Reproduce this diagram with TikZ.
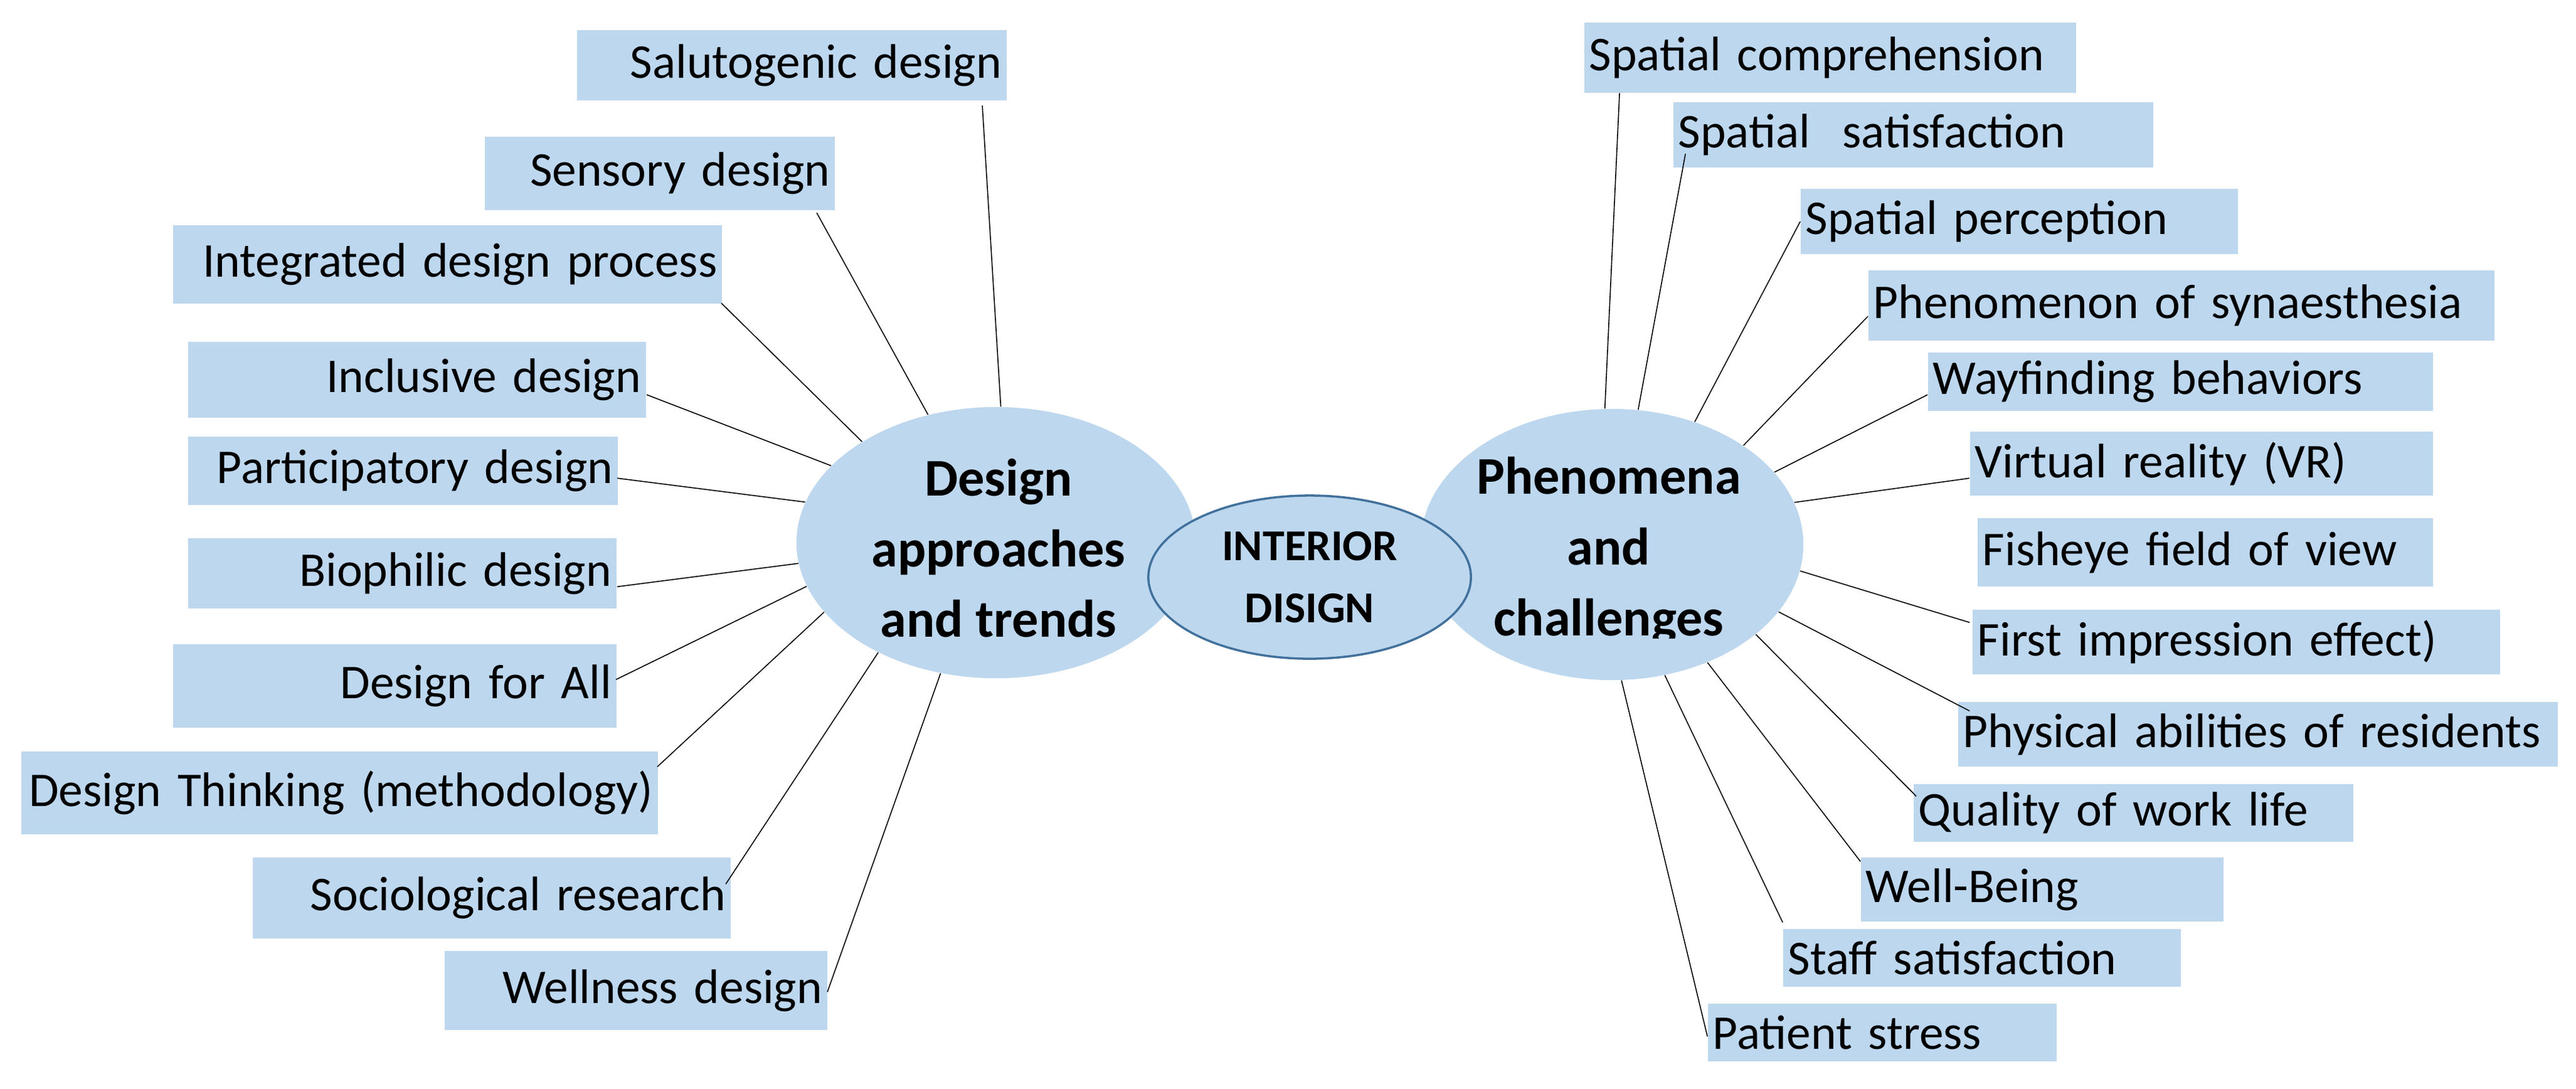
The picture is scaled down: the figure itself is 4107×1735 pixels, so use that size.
\documentclass[tikz,border=0pt]{standalone}
\usepackage{fontspec}
\setmainfont{Carlito}
\usetikzlibrary{shapes.geometric,calc}
\definecolor{boxc}{HTML}{BDD7EE}
\definecolor{edgec}{HTML}{41719C}
\newcommand\bx[7]{%
  \pgfmathsetmacro\bw{(#4-#2)/100}\pgfmathsetmacro\bh{(#5-#3)/100}\pgfmathsetmacro\tw{\bw-0.16}%
  \node[box,minimum width=\bw cm,minimum height=\bh cm,text width=\tw cm,align=#6] (#1) at ({(#2+#4)/2},{(#3+#5)/2}) {#7};}
\begin{document}
\begin{tikzpicture}[x=0.01cm,y=-0.01cm,
  box/.style={rectangle,fill=boxc,inner sep=0.08cm,font=\fontsize{22}{26}\selectfont},
  big/.style={ellipse,fill=boxc,inner sep=0pt},
  btext/.style={align=center,font=\bfseries\fontsize{24}{32}\selectfont},
  link/.style={black,line width=0.45pt}]
\useasboundingbox (0,0) rectangle (4107,1735);
% left boxes
\bx{sal}{920}{48}{1605}{160}{right}{Salutogenic design}
\bx{sen}{773}{218}{1331}{335}{right}{Sensory design}
\bx{int}{276}{359}{1151}{484}{right}{Integrated design process}
\bx{inc}{300}{545}{1030}{666}{right}{Inclusive design}
\bx{par}{300}{696}{985}{805}{right}{Participatory design}
\bx{bio}{300}{858}{983}{970}{right}{Biophilic design}
\bx{dfa}{276}{1027}{983}{1160}{right}{Design for All}
\bx{dt}{34}{1198}{1049}{1330}{right}{Design Thinking (methodology)}
\bx{soc}{403}{1367}{1165}{1496}{right}{Sociological research}
\bx{wel}{709}{1516}{1319}{1642}{right}{Wellness design}
% right boxes
\bx{sc}{2526}{36}{3310}{148}{left}{Spatial comprehension}
\bx{ss}{2668}{163}{3433}{267}{left}{Spatial\ \ satisfaction}
\bx{sp}{2871}{301}{3568}{405}{left}{Spatial perception}
\bx{ph}{2979}{431}{3977}{543}{left}{Phenomenon of synaesthesia}
\bx{wf}{3074}{562}{3879}{655}{left}{Wayfinding behaviors}
\bx{vr}{3141}{688}{3879}{790}{left}{Virtual reality (VR)}
\bx{fe}{3153}{826}{3879}{935}{left}{Fisheye field of view}
\bx{fi}{3145}{972}{3986}{1075}{left}{First impression effect)}
\bx{pa}{3122}{1119}{4078}{1222}{left}{Physical abilities of residents}
\bx{qw}{3051}{1250}{3752}{1342}{left}{Quality of work life}
\bx{wb}{2967}{1367}{3545}{1469}{left}{Well-Being}
\bx{st}{2843}{1481}{3477}{1573}{left}{Staff satisfaction}
\bx{ps}{2723}{1600}{3279}{1692}{left}{Patient stress}
% ellipses
\node[big,minimum width=6.36cm,minimum height=4.32cm] (L) at (1588,865) {};
\node[big,minimum width=6.10cm,minimum height=4.32cm] (R) at (2570,868) {};
\node[btext] (Lt) at (1592,874) {Design\\approaches\\and trends};
\begin{scope}
\clip (2250,600) rectangle (2900,1017);
\node[btext] (Rt) at (2565,878) {Phenomena\\and\\challenges};
\end{scope}
\node[ellipse,fill=boxc,draw=edgec,line width=1pt,minimum width=5.14cm,minimum height=2.60cm,inner sep=0pt,
  align=center,font=\bfseries\fontsize{20}{28}\selectfont] (C) at (2088,920) {INTERIOR\\DISIGN};
% connectors left
\draw[link] (L.88) -- ($(sal.north west)+(647,121)$);
\draw[link] (L.118) -- ($(sen.north west)+(530,122)$);
\draw[link] (L.143) -- ($(int.north west)+(875,125)$);
\draw[link] (L.155) -- ($(inc.north west)+(732,85)$);
\draw[link] (L.168) -- ($(par.north west)+(685,67)$);
\draw[link] (L.186) -- ($(bio.north west)+(685,78)$);
\draw[link] (L.193) -- ($(dfa.north west)+(707,57)$);
\draw[link] (L.202) -- ($(dt.north west)+(1015,25)$);
\draw[link] (L.223) -- ($(soc.north west)+(755,43)$);
\draw[link] (L.247) -- ($(wel.north west)+(611,66)$);
% connectors right
\draw[link] (R.93) -- ($(sc.north west)+(57,113)$);
\draw[link] (R.79) -- ($(ss.north west)+(20,83)$);
\draw[link] (R.56) -- ($(sp.north west)+(0,53)$);
\draw[link] (R.37) -- ($(ph.north west)+(0,74)$);
\draw[link] (R.24) -- ($(wf.north west)+(0,68)$);
\draw[link] (R.13) -- ($(vr.north west)+(0,75)$);
\draw[link] (R.-8) -- ($(fi.north west)+(-4,21)$);
\draw[link] (R.-22) -- ($(pa.north west)+(19,15)$);
\draw[link] (R.-32) -- ($(qw.north west)+(5,20)$);
\draw[link] (R.-51) -- ($(wb.north west)+(0,7)$);
\draw[link] (R.-68) -- ($(st.north west)+(0,-10)$);
\draw[link] (R.-86) -- ($(ps.north west)+(0,53)$);
\end{tikzpicture}
\end{document}
